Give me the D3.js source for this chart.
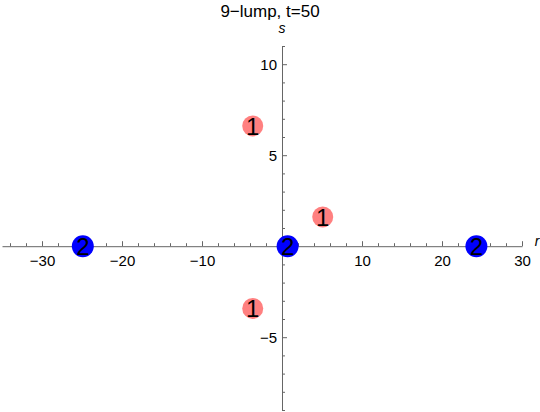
<!DOCTYPE html>
<html>
<head>
<meta charset="utf-8">
<script src="https://cdn.jsdelivr.net/npm/d3@7"></script>
<style>
  body { margin: 0; background: #fff; }
  svg { display: block; font-family: "Liberation Sans", Arial, sans-serif; }
</style>
</head>
<body>
<div id="chart"></div>
<script>
'use strict';

// lumps: position (r, s) and multiplicity label
var lumpR = [-24.9, 0.7, 24.3, -3.66, 5.09, -3.66];
var lumpS = [0, 0, 0, 6.61, 1.61, -3.42];
var lumpN = [2, 2, 2, 1, 1, 1];

var xMajor = [-30, -20, -10, 10, 20, 30];
var yMajor = [-5, 5, 10];

var width = 540, height = 412;

var x = d3.scaleLinear().domain([-35, 30]).range([2, 522]);
var y = d3.scaleLinear().domain([-9, 11]).range([410, 46]);

var svg = d3.select("#chart")
    .append("svg")
    .attr("width", width)
    .attr("height", height);

var fmt = function (d) { return d < 0 ? "\u2212" + Math.abs(d) : d; };
var noDomain = function (g) { g.select(".domain").remove(); };

// minor ticks every 2 on r, every 1 on s
var xMinor = d3.range(-34, 31, 2).filter(function (d) { return d % 10 !== 0; });
var yMinor = d3.range(-9, 12, 1).filter(function (d) { return d % 5 !== 0; });

var gx = svg.append("g").attr("transform", "translate(0," + y(0) + ")");
gx.append("g").call(d3.axisTop(x).tickValues(xMinor).tickSize(3).tickFormat("").tickSizeOuter(0));
gx.append("g").call(d3.axisTop(x).tickValues(xMajor).tickSize(5).tickFormat("")).call(noDomain);
gx.append("g").call(d3.axisBottom(x).tickValues(xMajor).tickSize(0).tickPadding(9).tickFormat(fmt)).call(noDomain);

var gy = svg.append("g").attr("transform", "translate(" + x(0) + ",0)");
gy.append("g").call(d3.axisRight(y).tickValues(yMinor).tickSize(3).tickFormat("").tickSizeOuter(0));
gy.append("g").call(d3.axisRight(y).tickValues(yMajor).tickSize(5).tickFormat("")).call(noDomain);
gy.append("g").call(d3.axisLeft(y).tickValues(yMajor).tickSize(0).tickPadding(5).tickFormat(fmt)).call(noDomain);

svg.selectAll(".domain").attr("stroke", "#666");
svg.selectAll(".tick line").attr("stroke", "#666");
svg.selectAll(".tick text")
    .attr("fill", "#000")
    .style("font-size", "15px");

svg.append("text")
    .attr("x", 537)
    .attr("y", y(0))
    .attr("text-anchor", "middle")
    .style("font-size", "14px")
    .style("font-style", "italic")
    .text("r");

svg.append("text")
    .attr("x", x(0))
    .attr("y", 33)
    .attr("text-anchor", "middle")
    .style("font-size", "14px")
    .style("font-style", "italic")
    .text("s");

svg.append("text")
    .attr("x", 270)
    .attr("y", 17)
    .attr("text-anchor", "middle")
    .style("font-size", "17px")
    .text("9\u2212lump, t=50");

var lumps = lumpR.map(function (r, i) { return { r: r, s: lumpS[i], n: lumpN[i] }; });

var g = svg.selectAll(".lump")
    .data(lumps)
    .enter().append("g")
    .attr("class", "lump")
    .attr("transform", function (d) { return "translate(" + x(d.r) + "," + y(d.s) + ")"; });

g.append("circle")
    .attr("r", function (d) { return d.n === 2 ? 11 : 10.5; })
    .attr("fill", function (d) { return d.n === 2 ? "#0000ff" : "#ff8080"; });

g.append("text")
    .attr("text-anchor", "middle")
    .attr("dy", "0.36em")
    .style("font-size", "24px")
    .attr("fill", "#000")
    .text(function (d) { return d.n; });
</script>
</body>
</html>
